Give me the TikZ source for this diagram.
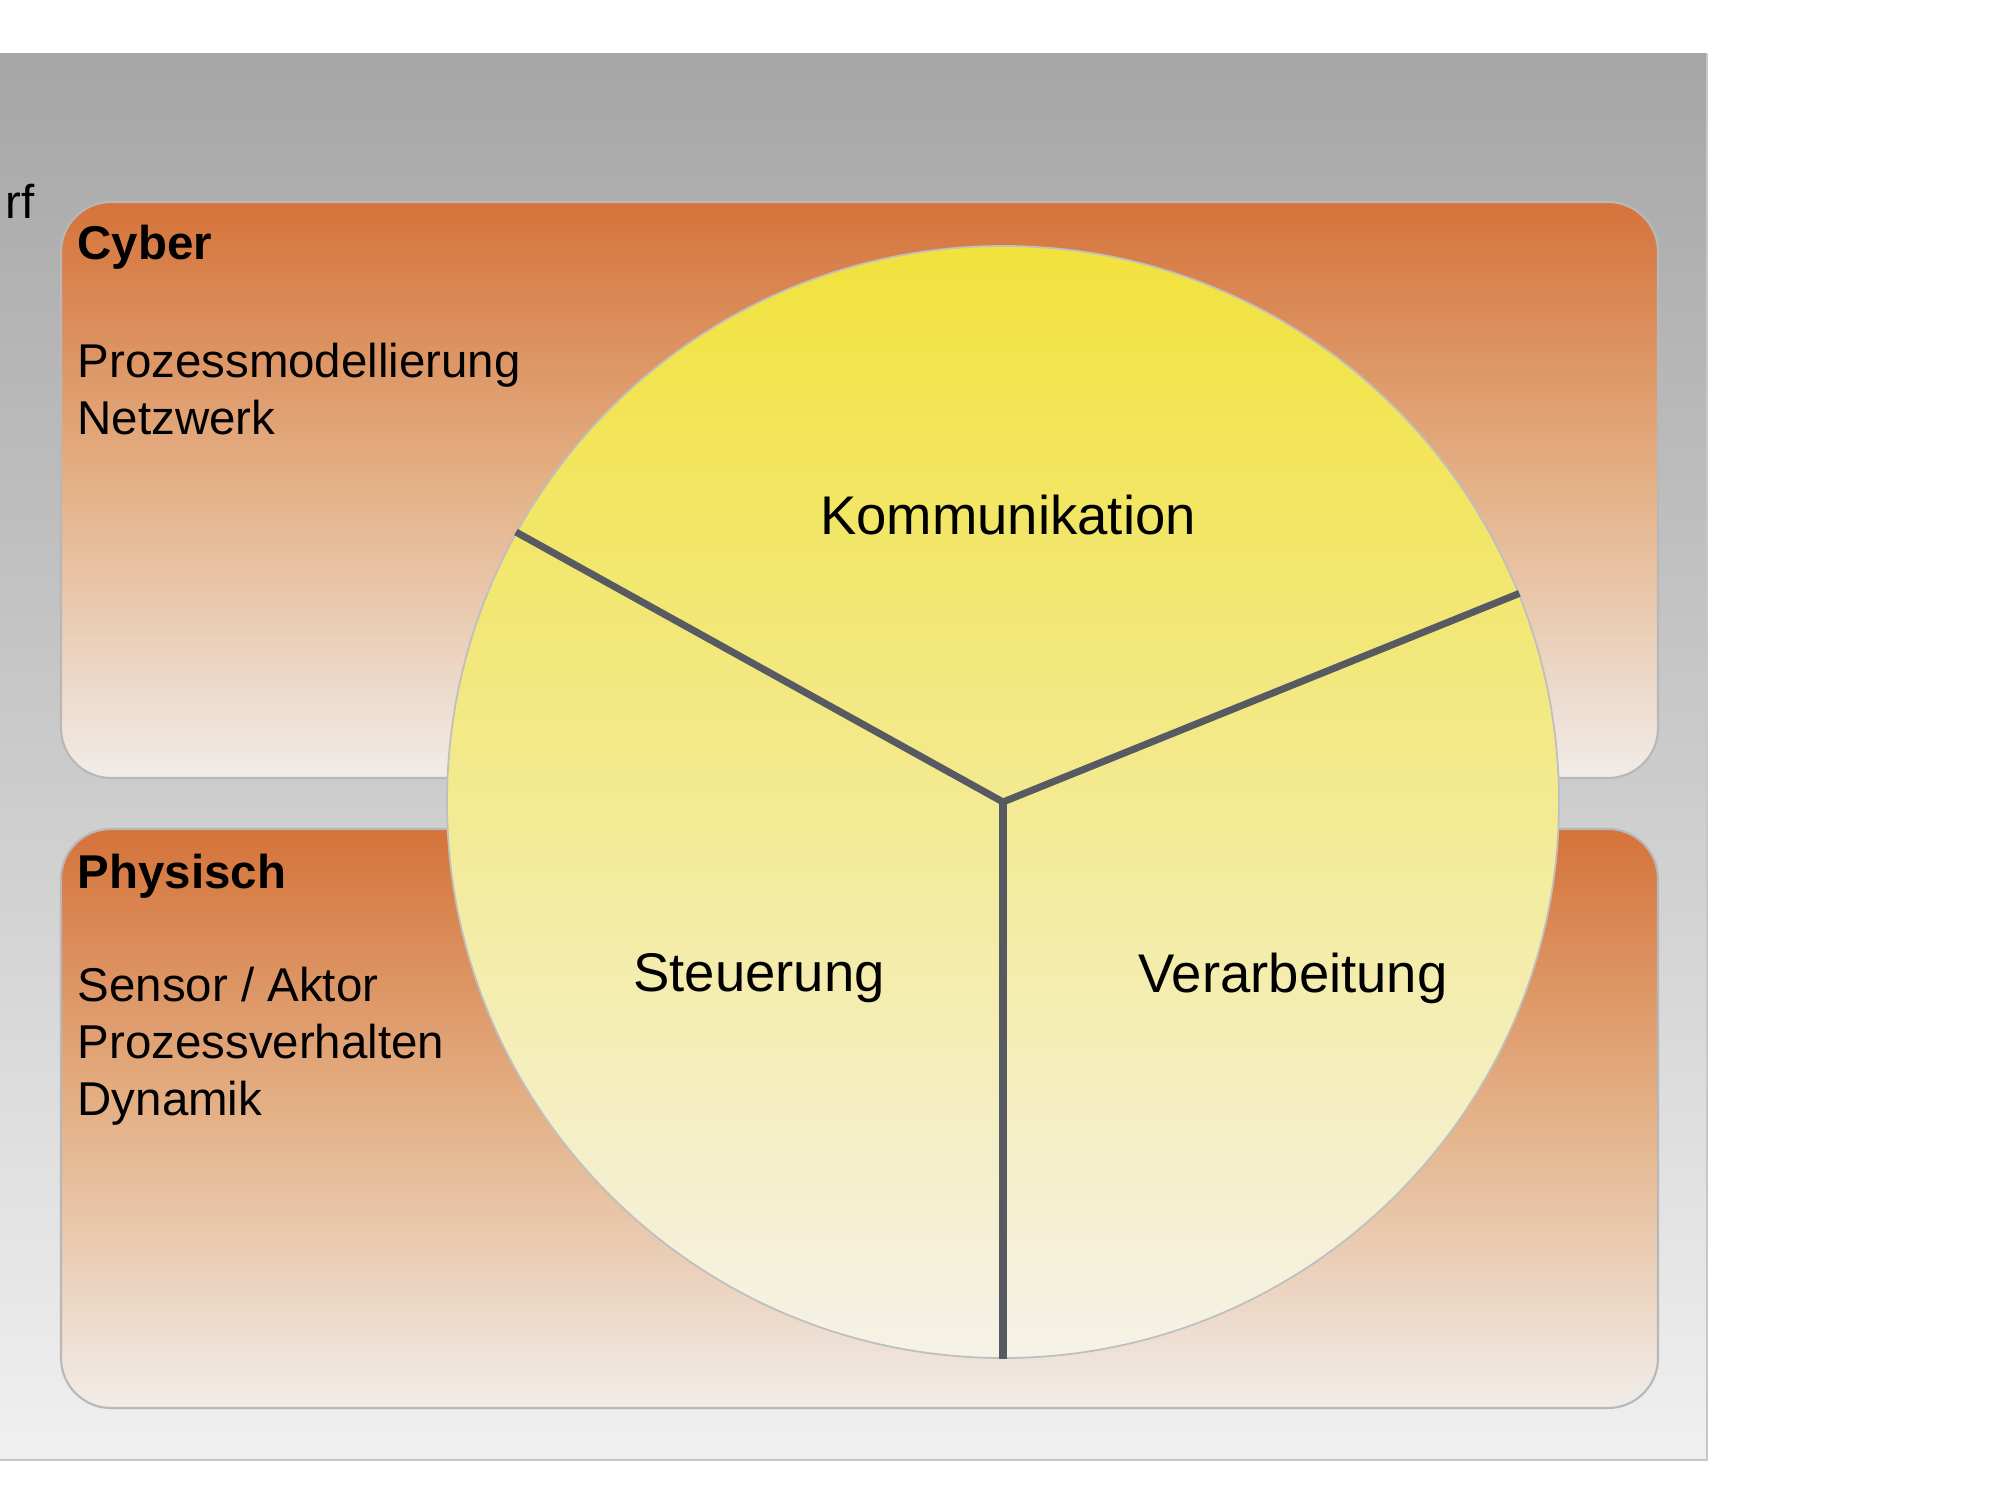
\documentclass[tikz,border=0pt]{standalone}
\usepackage{fontspec}
\setmainfont{Liberation Sans}
\usetikzlibrary{positioning}

\definecolor{panelTop}{HTML}{A6A6A6}
\definecolor{panelBottom}{HTML}{F0F0F0}
\definecolor{layerTop}{HTML}{D5733A}
\definecolor{layerMid}{HTML}{E4B288}
\definecolor{layerBottom}{HTML}{F1ECE9}
\definecolor{wheelTop}{HTML}{F1E23C}
\definecolor{wheelBottom}{HTML}{F5F2E8}
\definecolor{spoke}{HTML}{575B61}

\begin{document}
\begin{tikzpicture}[
    layer box/.style={rounded corners=0.5cm, draw=black!28, line width=0.6pt,
        top color=layerTop, bottom color=layerBottom, middle color=layerMid,
        minimum width=15.97cm, inner sep=0pt},
    layer title/.style={anchor=base west, inner sep=0pt, font=\fontsize{13.5}{16.2}\selectfont\bfseries},
    layer item/.style={anchor=base west, inner sep=0pt, font=\fontsize{13.5}{16.2}\selectfont},
    sector label/.style={inner sep=0pt, font=\fontsize{15.5}{18.6}\selectfont},
    spoke line/.style={draw=spoke, line width=2pt}]
    \useasboundingbox (0,0) rectangle (20,15);

    % grey panel
    \fill[top color=panelTop, bottom color=panelBottom] (-0.1,0.40) rectangle (17.07,14.46);
    \draw[black!22, line width=0.8pt] (-0.1,0.40) -- (17.07,0.40) -- (17.07,14.46);
    \node[layer item, anchor=base east] (cut) at (0.35,12.81) {rf};

    % layers
    \node[layer box, minimum height=5.76cm] (cyber) at (8.595,10.10) {};
    \node[layer box, minimum height=5.79cm] (phys) at (8.595,3.815) {};

    \node[layer title] (cybertitle) at (0.77,12.40) {Cyber};
    \node[layer item] (modell) at (0.77,11.22) {Prozessmodellierung};
    \node[layer item] (netz) at (0.77,10.65) {Netzwerk};

    \node[layer title] (phystitle) at (0.77,6.12) {Physisch};
    \node[layer item] (sensor) at (0.77,4.99) {Sensor / Aktor};
    \node[layer item] (verhalten) at (0.77,4.42) {Prozessverhalten};
    \node[layer item] (dynamik) at (0.77,3.85) {Dynamik};

    % wheel
    \node[circle, minimum size=11.12cm, inner sep=0pt, draw=black!25, line width=0.5pt,
        top color=wheelTop, bottom color=wheelBottom] (wheel) at (10.03,6.98) {};
    \draw[spoke line] (wheel.center) -- (wheel.151.5);
    \draw[spoke line] (wheel.center) -- (wheel.22);
    \draw[spoke line] (wheel.center) -- (wheel.270);

    \node[sector label] (komm) at (10.08,9.85) {Kommunikation};
    \node[sector label] (steuer) at (7.59,5.22) {Steuerung};
    \node[sector label] (verarb) at (12.93,5.22) {Verarbeitung};
\end{tikzpicture}
\end{document}
